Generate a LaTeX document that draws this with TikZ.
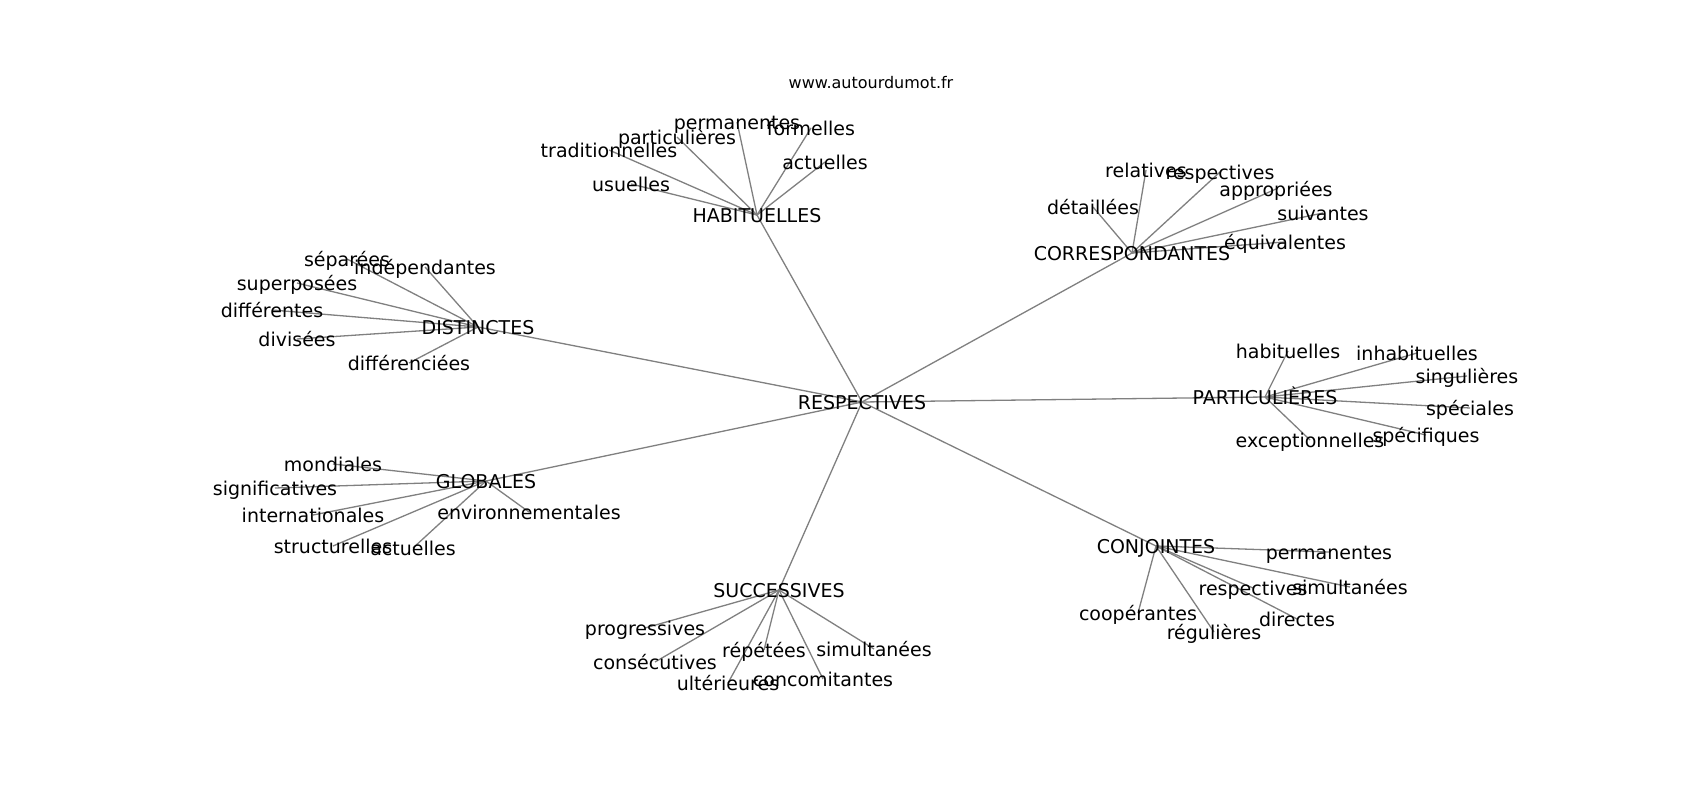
\documentclass[tikz,border=0pt]{standalone}
\usepackage{fontspec}
\setmainfont{DejaVu Sans}
\usetikzlibrary{backgrounds}
\begin{document}
\begin{tikzpicture}[x=1pt,y=-1pt,
  lbl/.style={inner sep=0pt, anchor=center, font=\fontsize{19}{22}\selectfont, text height=14pt, text depth=0pt},
  ttl/.style={inner sep=0pt, anchor=center, font=\fontsize{16}{19}\selectfont, text height=11.8pt, text depth=0pt},
  link/.style={draw=gray, line width=1.3pt}]
\useasboundingbox (0,0) rectangle (1700,800);
% title
\node[ttl] (title) at (871,83) {www.autourdumot.fr};
% centre
\node[lbl] (resp) at (862,402) {RESPECTIVES};
% hubs
\node[lbl] (hab) at (757,215) {HABITUELLES};
\node[lbl] (corr) at (1132,253) {CORRESPONDANTES};
\node[lbl] (dist) at (478,327) {DISTINCTES};
\node[lbl] (part) at (1265,397) {PARTICULIÈRES};
\node[lbl] (glob) at (486,481) {GLOBALES};
\node[lbl] (succ) at (779,590) {SUCCESSIVES};
\node[lbl] (conj) at (1156,546) {CONJOINTES};
% HABITUELLES leaves
\node[lbl] (h1) at (737,122) {permanentes};
\node[lbl] (h2) at (811,128) {formelles};
\node[lbl] (h3) at (677,137) {particulières};
\node[lbl] (h4) at (609,150) {traditionnelles};
\node[lbl] (h5) at (825,162) {actuelles};
\node[lbl] (h6) at (631,184) {usuelles};
% DISTINCTES leaves
\node[lbl] (d1) at (347,259) {séparées};
\node[lbl] (d2) at (425,267) {indépendantes};
\node[lbl] (d3) at (297,283) {superposées};
\node[lbl] (d4) at (272,310) {différentes};
\node[lbl] (d5) at (297,339) {divisées};
\node[lbl] (d6) at (409,363) {différenciées};
% GLOBALES leaves
\node[lbl] (g1) at (333,464) {mondiales};
\node[lbl] (g2) at (275,488) {significatives};
\node[lbl] (g3) at (313,515) {internationales};
\node[lbl] (g4) at (529,512) {environnementales};
\node[lbl] (g5) at (333,546) {structurelles};
\node[lbl] (g6) at (413,548) {actuelles};
% SUCCESSIVES leaves
\node[lbl] (s1) at (645,628) {progressives};
\node[lbl] (s2) at (655,662) {consécutives};
\node[lbl] (s3) at (764,650) {répétées};
\node[lbl] (s4) at (874,649) {simultanées};
\node[lbl] (s5) at (728,683) {ultérieures};
\node[lbl] (s6) at (823,679) {concomitantes};
% CONJOINTES leaves
\node[lbl] (c1) at (1329,552) {permanentes};
\node[lbl] (c2) at (1253,588) {respectives};
\node[lbl] (c3) at (1350,587) {simultanées};
\node[lbl] (c4) at (1138,613) {coopérantes};
\node[lbl] (c5) at (1297,619) {directes};
\node[lbl] (c6) at (1214,632) {régulières};
% CORRESPONDANTES leaves
\node[lbl] (r1) at (1146,170) {relatives};
\node[lbl] (r2) at (1220,172) {respectives};
\node[lbl] (r3) at (1276,189) {appropriées};
\node[lbl] (r4) at (1093,207) {détaillées};
\node[lbl] (r5) at (1323,213) {suivantes};
\node[lbl] (r6) at (1285,242) {équivalentes};
% PARTICULIERES leaves
\node[lbl] (p1) at (1288,351) {habituelles};
\node[lbl] (p2) at (1417,353) {inhabituelles};
\node[lbl] (p3) at (1467,376) {singulières};
\node[lbl] (p4) at (1470,408) {spéciales};
\node[lbl] (p5) at (1310,440) {exceptionnelles};
\node[lbl] (p6) at (1426,435) {spécifiques};
\begin{scope}[on background layer]
\fill[white] (0,0) rectangle (1700,800);
\foreach \h in {hab,corr,dist,part,glob,succ,conj}
  \draw[link] (resp.center) -- (\h.center);
\foreach \l in {h1,h2,h3,h4,h5,h6} \draw[link] (hab.center) -- (\l.center);
\foreach \l in {d1,d2,d3,d4,d5,d6} \draw[link] (dist.center) -- (\l.center);
\foreach \l in {g1,g2,g3,g4,g5,g6} \draw[link] (glob.center) -- (\l.center);
\foreach \l in {s1,s2,s3,s4,s5,s6} \draw[link] (succ.center) -- (\l.center);
\foreach \l in {c1,c2,c3,c4,c5,c6} \draw[link] (conj.center) -- (\l.center);
\foreach \l in {r1,r2,r3,r4,r5,r6} \draw[link] (corr.center) -- (\l.center);
\foreach \l in {p1,p2,p3,p4,p5,p6} \draw[link] (part.center) -- (\l.center);
\end{scope}
\end{tikzpicture}
\end{document}
